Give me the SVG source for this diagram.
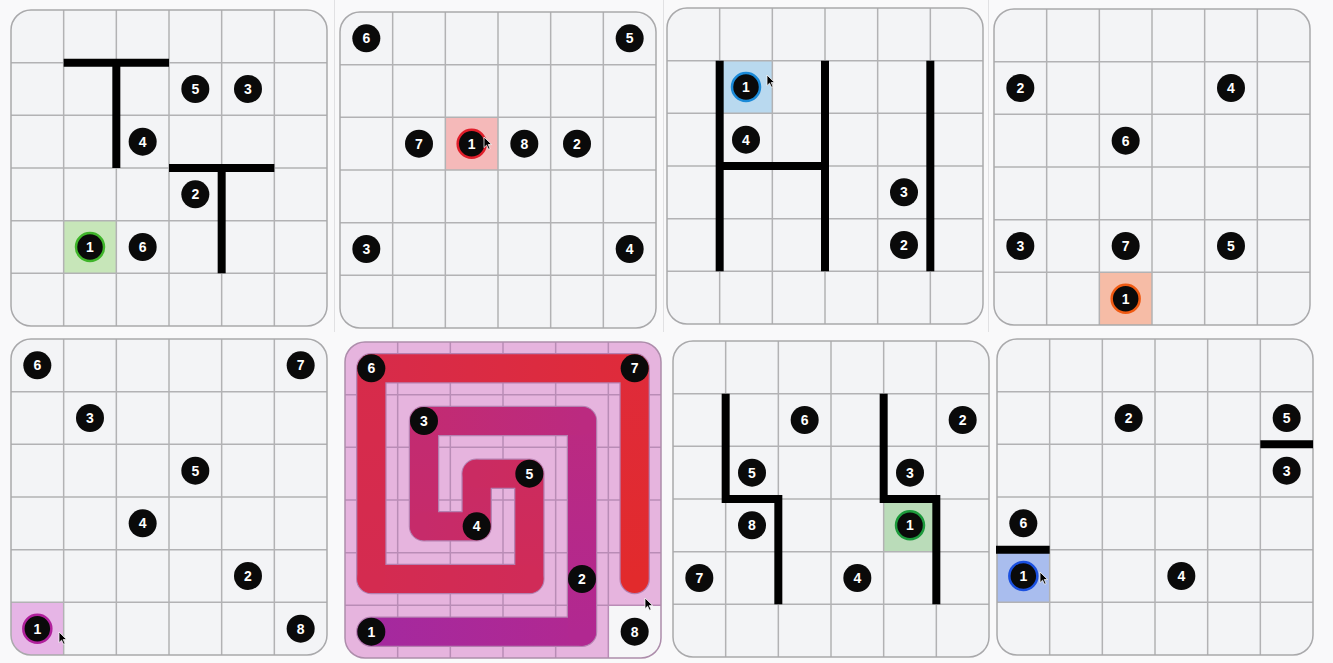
<svg xmlns="http://www.w3.org/2000/svg" xmlns:xlink="http://www.w3.org/1999/xlink" width="1333" height="663" viewBox="0 0 1333 663">
<style>
.bg{fill:#f9f9fa}
.sep{stroke:#e1e1e3;stroke-width:1}
.pfill{fill:#f3f4f6}
.pborder{fill:none;stroke:#a9a9ab;stroke-width:1.5}
.grid{fill:none;stroke:#b2b2b4;stroke-width:1.5}
.wall{fill:none;stroke:#000;stroke-width:8;stroke-linecap:butt;stroke-linejoin:miter}
.badge circle{fill:#0a0a0a}
.badge text{fill:#fff;font-family:"Liberation Sans",Arial,sans-serif;font-weight:bold;font-size:14px;text-anchor:middle}
.seg{fill:none;stroke-width:28;stroke-linecap:round;stroke-linejoin:round}
.cursor{fill:#000;stroke:#fff;stroke-width:0.9;stroke-linejoin:round}
</style>
<defs>
<path id="gl" d="M52.67 0V316M105.33 0V316M158 0V316M210.67 0V316M263.33 0V316M0 52.67H316M0 105.33H316M0 158H316M0 210.67H316M0 263.33H316"/>
<rect id="pr" x="0" y="0" width="316" height="316" rx="20" ry="20"/>
<path id="cur" d="M0 0V12.5L3 9.6L5.3 14.4L7.2 13.6L5 8.9H9Z"/>
<linearGradient id="g1" gradientUnits="userSpaceOnUse" x1="26.33" y1="289.67" x2="237" y2="289.67"><stop offset="0" stop-color="#a4299f"/><stop offset="1" stop-color="#b12891"/></linearGradient>
<linearGradient id="g2" gradientUnits="userSpaceOnUse" x1="237" y1="289.67" x2="237" y2="79"><stop offset="0" stop-color="#b12891"/><stop offset="1" stop-color="#bb2a80"/></linearGradient>
<linearGradient id="g3" gradientUnits="userSpaceOnUse" x1="237" y1="79" x2="79" y2="79"><stop offset="0" stop-color="#bb2a80"/><stop offset="1" stop-color="#c22b72"/></linearGradient>
<linearGradient id="g4" gradientUnits="userSpaceOnUse" x1="79" y1="79" x2="79" y2="184.33"><stop offset="0" stop-color="#c22b72"/><stop offset="1" stop-color="#c62b6a"/></linearGradient>
<linearGradient id="g5" gradientUnits="userSpaceOnUse" x1="79" y1="184.33" x2="131.67" y2="184.33"><stop offset="0" stop-color="#c62b6a"/><stop offset="1" stop-color="#c82b66"/></linearGradient>
<linearGradient id="g6" gradientUnits="userSpaceOnUse" x1="131.67" y1="184.33" x2="131.67" y2="131.67"><stop offset="0" stop-color="#c82b66"/><stop offset="1" stop-color="#ca2b62"/></linearGradient>
<linearGradient id="g7" gradientUnits="userSpaceOnUse" x1="131.67" y1="131.67" x2="184.33" y2="131.67"><stop offset="0" stop-color="#ca2b62"/><stop offset="1" stop-color="#cc2b5e"/></linearGradient>
<linearGradient id="g8" gradientUnits="userSpaceOnUse" x1="184.33" y1="131.67" x2="184.33" y2="237"><stop offset="0" stop-color="#cc2b5e"/><stop offset="1" stop-color="#d02b58"/></linearGradient>
<linearGradient id="g9" gradientUnits="userSpaceOnUse" x1="184.33" y1="237" x2="26.33" y2="237"><stop offset="0" stop-color="#d02b58"/><stop offset="1" stop-color="#d42b50"/></linearGradient>
<linearGradient id="g10" gradientUnits="userSpaceOnUse" x1="26.33" y1="237" x2="26.33" y2="26.33"><stop offset="0" stop-color="#d42b50"/><stop offset="1" stop-color="#d72b4a"/></linearGradient>
<linearGradient id="g11" gradientUnits="userSpaceOnUse" x1="26.33" y1="26.33" x2="289.67" y2="26.33"><stop offset="0" stop-color="#d72b4a"/><stop offset="1" stop-color="#df2b3a"/></linearGradient>
<linearGradient id="g12" gradientUnits="userSpaceOnUse" x1="289.67" y1="26.33" x2="289.67" y2="237"><stop offset="0" stop-color="#df2b3a"/><stop offset="1" stop-color="#e22a2c"/></linearGradient>
</defs>

<rect class="bg" x="0" y="0" width="1333" height="663"/>
<line class="sep" x1="334.5" y1="0" x2="334.5" y2="332"/>
<line class="sep" x1="663.5" y1="0" x2="663.5" y2="332"/>
<line class="sep" x1="988.5" y1="0" x2="988.5" y2="332"/>

<!-- Panel 1 -->
<g id="panel-1" transform="translate(11,10)">
<use href="#pr" class="pfill"/>
<rect x="52.67" y="210.67" width="52.67" height="52.67" fill="#c7e6b9"/>
<use href="#gl" class="grid"/>
<use href="#pr" class="pborder"/>
<g id="p1-walls"><path class="wall" d="M52.67 52.67H158M105.33 52.67V158M158 158H263.33M210.67 158V263.33"/></g>
<g id="p1-n5" class="badge"><circle cx="184.33" cy="79" r="14"/><text x="184.33" y="84">5</text></g>
<g id="p1-n3" class="badge"><circle cx="237" cy="79" r="14"/><text x="237" y="84">3</text></g>
<g id="p1-n4" class="badge"><circle cx="131.67" cy="131.67" r="14"/><text x="131.67" y="136.67">4</text></g>
<g id="p1-n2" class="badge"><circle cx="184.33" cy="184.33" r="14"/><text x="184.33" y="189.33">2</text></g>
<g id="p1-n1" class="badge"><circle cx="79" cy="237" r="14" stroke="#3fb52a" stroke-width="2.5"/><text x="79" y="242">1</text></g>
<g id="p1-n6" class="badge"><circle cx="131.67" cy="237" r="14"/><text x="131.67" y="242">6</text></g>
</g>

<!-- Panel 2 -->
<g id="panel-2" transform="translate(340,12)">
<use href="#pr" class="pfill"/>
<rect x="105.33" y="105.33" width="52.67" height="52.67" fill="#f5b9b9"/>
<use href="#gl" class="grid"/>
<use href="#pr" class="pborder"/>
<g id="p2-n6" class="badge"><circle cx="26.33" cy="26.33" r="14"/><text x="26.33" y="31.33">6</text></g>
<g id="p2-n5" class="badge"><circle cx="289.67" cy="26.33" r="14"/><text x="289.67" y="31.33">5</text></g>
<g id="p2-n7" class="badge"><circle cx="79" cy="131.67" r="14"/><text x="79" y="136.67">7</text></g>
<g id="p2-n1" class="badge"><circle cx="131.67" cy="131.67" r="14" stroke="#e01e2a" stroke-width="2.5"/><text x="131.67" y="136.67">1</text></g>
<g id="p2-n8" class="badge"><circle cx="184.33" cy="131.67" r="14"/><text x="184.33" y="136.67">8</text></g>
<g id="p2-n2" class="badge"><circle cx="237" cy="131.67" r="14"/><text x="237" y="136.67">2</text></g>
<g id="p2-n3" class="badge"><circle cx="26.33" cy="237" r="14"/><text x="26.33" y="242">3</text></g>
<g id="p2-n4" class="badge"><circle cx="289.67" cy="237" r="14"/><text x="289.67" y="242">4</text></g>
<use href="#cur" class="cursor" transform="translate(144,125) scale(0.85)"/>
</g>

<!-- Panel 3 -->
<g id="panel-3" transform="translate(667,8)">
<use href="#pr" class="pfill"/>
<rect x="52.67" y="52.67" width="52.67" height="52.67" fill="#b9d9ef"/>
<use href="#gl" class="grid"/>
<use href="#pr" class="pborder"/>
<g id="p3-walls"><path class="wall" d="M52.67 52.67V263.33M158 52.67V263.33M52.67 158H158M263.33 52.67V263.33"/></g>
<g id="p3-n1" class="badge"><circle cx="79" cy="79" r="14" stroke="#1a8ad8" stroke-width="2.5"/><text x="79" y="84">1</text></g>
<g id="p3-n4" class="badge"><circle cx="79" cy="131.67" r="14"/><text x="79" y="136.67">4</text></g>
<g id="p3-n3" class="badge"><circle cx="237" cy="184.33" r="14"/><text x="237" y="189.33">3</text></g>
<g id="p3-n2" class="badge"><circle cx="237" cy="237" r="14"/><text x="237" y="242">2</text></g>
<use href="#cur" class="cursor" transform="translate(100,67) scale(0.85)"/>
</g>

<!-- Panel 4 -->
<g id="panel-4" transform="translate(994,9)">
<use href="#pr" class="pfill"/>
<rect x="105.33" y="263.33" width="52.67" height="52.67" fill="#f6bca6"/>
<use href="#gl" class="grid"/>
<use href="#pr" class="pborder"/>
<g id="p4-n2" class="badge"><circle cx="26.33" cy="79" r="14"/><text x="26.33" y="84">2</text></g>
<g id="p4-n4" class="badge"><circle cx="237" cy="79" r="14"/><text x="237" y="84">4</text></g>
<g id="p4-n6" class="badge"><circle cx="131.67" cy="131.67" r="14"/><text x="131.67" y="136.67">6</text></g>
<g id="p4-n3" class="badge"><circle cx="26.33" cy="237" r="14"/><text x="26.33" y="242">3</text></g>
<g id="p4-n7" class="badge"><circle cx="131.67" cy="237" r="14"/><text x="131.67" y="242">7</text></g>
<g id="p4-n5" class="badge"><circle cx="237" cy="237" r="14"/><text x="237" y="242">5</text></g>
<g id="p4-n1" class="badge"><circle cx="131.67" cy="289.67" r="14" stroke="#f05a12" stroke-width="2.5"/><text x="131.67" y="294.67">1</text></g>
</g>

<!-- Panel 5 -->
<g id="panel-5" transform="translate(11,339)">
<use href="#pr" class="pfill"/>
<path d="M0 263.33H52.67V316H20A20 20 0 0 1 0 296Z" fill="#e6b5e6"/>
<use href="#gl" class="grid"/>
<use href="#pr" class="pborder"/>
<g id="p5-n6" class="badge"><circle cx="26.33" cy="26.33" r="14"/><text x="26.33" y="31.33">6</text></g>
<g id="p5-n7" class="badge"><circle cx="289.67" cy="26.33" r="14"/><text x="289.67" y="31.33">7</text></g>
<g id="p5-n3" class="badge"><circle cx="79" cy="79" r="14"/><text x="79" y="84">3</text></g>
<g id="p5-n5" class="badge"><circle cx="184.33" cy="131.67" r="14"/><text x="184.33" y="136.67">5</text></g>
<g id="p5-n4" class="badge"><circle cx="131.67" cy="184.33" r="14"/><text x="131.67" y="189.33">4</text></g>
<g id="p5-n2" class="badge"><circle cx="237" cy="237" r="14"/><text x="237" y="242">2</text></g>
<g id="p5-n1" class="badge"><circle cx="26.33" cy="289.67" r="14" stroke="#b0209c" stroke-width="2.5"/><text x="26.33" y="294.67">1</text></g>
<g id="p5-n8" class="badge"><circle cx="289.67" cy="289.67" r="14"/><text x="289.67" y="294.67">8</text></g>
<use href="#cur" class="cursor" transform="translate(48,293) scale(0.85)"/>
</g>

<!-- Panel 6 (spiral) -->
<g id="panel-6" transform="translate(345,342)">
<use href="#pr" fill="#e6b4de"/>
<path d="M263.33 263.33H316V296A20 20 0 0 1 296 316H263.33Z" fill="#f6f6f8"/>
<use href="#gl" fill="none" stroke="#b98cb6" stroke-width="1.5"/>
<use href="#pr" fill="none" stroke="#ad8dab" stroke-width="1.5"/>
<g id="connectors">
<path d="M26.33 289.67H237V79H79V184.33H131.67V131.67H184.33V237H26.33V26.33H289.67V237" fill="none" stroke="#b47fb0" stroke-width="30.5" stroke-linejoin="round" stroke-linecap="round"/>
<path class="seg" stroke="url(#g1)" d="M26.33 289.67H237"/>
<path class="seg" stroke="url(#g2)" d="M237 289.67V79"/>
<path class="seg" stroke="url(#g3)" d="M237 79H79"/>
<path class="seg" stroke="url(#g4)" d="M79 79V184.33"/>
<path class="seg" stroke="url(#g5)" d="M79 184.33H131.67"/>
<path class="seg" stroke="url(#g6)" d="M131.67 184.33V131.67"/>
<path class="seg" stroke="url(#g7)" d="M131.67 131.67H184.33"/>
<path class="seg" stroke="url(#g8)" d="M184.33 131.67V237"/>
<path class="seg" stroke="url(#g9)" d="M184.33 237H26.33"/>
<path class="seg" stroke="url(#g10)" d="M26.33 237V26.33"/>
<path class="seg" stroke="url(#g11)" d="M26.33 26.33H289.67"/>
<path class="seg" stroke="url(#g12)" d="M289.67 26.33V237"/>
</g>
<g id="p6-n6" class="badge"><circle cx="26.33" cy="26.33" r="14"/><text x="26.33" y="31.33">6</text></g>
<g id="p6-n7" class="badge"><circle cx="289.67" cy="26.33" r="14"/><text x="289.67" y="31.33">7</text></g>
<g id="p6-n3" class="badge"><circle cx="79" cy="79" r="14"/><text x="79" y="84">3</text></g>
<g id="p6-n5" class="badge"><circle cx="184.33" cy="131.67" r="14"/><text x="184.33" y="136.67">5</text></g>
<g id="p6-n4" class="badge"><circle cx="131.67" cy="184.33" r="14"/><text x="131.67" y="189.33">4</text></g>
<g id="p6-n2" class="badge"><circle cx="237" cy="237" r="14"/><text x="237" y="242">2</text></g>
<g id="p6-n1" class="badge"><circle cx="26.33" cy="289.67" r="14"/><text x="26.33" y="294.67">1</text></g>
<g id="p6-n8" class="badge"><circle cx="289.67" cy="289.67" r="14"/><text x="289.67" y="294.67">8</text></g>
<use href="#cur" class="cursor" transform="translate(300,256) scale(0.85)"/>
</g>

<!-- Panel 7 -->
<g id="panel-7" transform="translate(673,341)">
<use href="#pr" class="pfill"/>
<rect x="210.67" y="158" width="52.67" height="52.67" fill="#badcb9"/>
<use href="#gl" class="grid"/>
<use href="#pr" class="pborder"/>
<g id="p7-walls"><path class="wall" d="M52.67 52.67V158H105.33V263.33M210.67 52.67V158H263.33V263.33"/></g>
<g id="p7-n6" class="badge"><circle cx="131.67" cy="79" r="14"/><text x="131.67" y="84">6</text></g>
<g id="p7-n2" class="badge"><circle cx="289.67" cy="79" r="14"/><text x="289.67" y="84">2</text></g>
<g id="p7-n5" class="badge"><circle cx="79" cy="131.67" r="14"/><text x="79" y="136.67">5</text></g>
<g id="p7-n3" class="badge"><circle cx="237" cy="131.67" r="14"/><text x="237" y="136.67">3</text></g>
<g id="p7-n8" class="badge"><circle cx="79" cy="184.33" r="14"/><text x="79" y="189.33">8</text></g>
<g id="p7-n1" class="badge"><circle cx="237" cy="184.33" r="14" stroke="#1c9a3c" stroke-width="2.5"/><text x="237" y="189.33">1</text></g>
<g id="p7-n7" class="badge"><circle cx="26.33" cy="237" r="14"/><text x="26.33" y="242">7</text></g>
<g id="p7-n4" class="badge"><circle cx="184.33" cy="237" r="14"/><text x="184.33" y="242">4</text></g>
</g>

<!-- Panel 8 -->
<g id="panel-8" transform="translate(997,339)">
<use href="#pr" class="pfill"/>
<rect x="0" y="210.67" width="52.67" height="52.67" fill="#a9bdee"/>
<use href="#gl" class="grid"/>
<use href="#pr" class="pborder"/>
<g id="p8-walls"><path class="wall" d="M263.33 105.33H316M-1 210.67H52.67"/></g>
<g id="p8-n2" class="badge"><circle cx="131.67" cy="79" r="14"/><text x="131.67" y="84">2</text></g>
<g id="p8-n5" class="badge"><circle cx="289.67" cy="79" r="14"/><text x="289.67" y="84">5</text></g>
<g id="p8-n3" class="badge"><circle cx="289.67" cy="131.67" r="14"/><text x="289.67" y="136.67">3</text></g>
<g id="p8-n6" class="badge"><circle cx="26.33" cy="184.33" r="14"/><text x="26.33" y="189.33">6</text></g>
<g id="p8-n1" class="badge"><circle cx="26.33" cy="237" r="14" stroke="#1a50e0" stroke-width="2.5"/><text x="26.33" y="242">1</text></g>
<g id="p8-n4" class="badge"><circle cx="184.33" cy="237" r="14"/><text x="184.33" y="242">4</text></g>
<use href="#cur" class="cursor" transform="translate(43,233) scale(0.85)"/>
</g>
</svg>
